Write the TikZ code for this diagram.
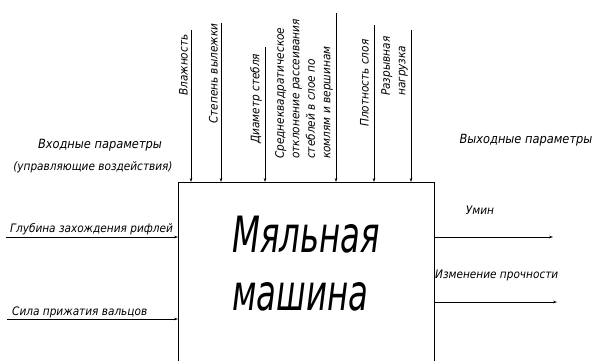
\documentclass[tikz,border=0pt]{standalone}
\usepackage{fontspec}
\usepackage{tikz}
\usetikzlibrary{arrows.meta,positioning}
\newfontfamily\gost{DejaVu Sans Condensed Oblique}
\newfontfamily\gosttitle{DejaVu Sans Condensed Oblique}[FakeStretch=0.72]

\begin{document}
\begin{tikzpicture}[
    x=1pt, y=-1pt,
    every node/.style={font=\gost\fontsize{11.7}{15.5}\selectfont, inner sep=1pt, text=black},
    vlabel/.style={rotate=90, anchor=south west, align=left},
    head/.style={font=\gost\fontsize{12.7}{15}\selectfont},
    flow/.style={-{Stealth[length=4pt,width=2.6pt]}, line width=0.5pt},
    block/.style={draw, line width=1.1pt, minimum width=256pt, minimum height=220pt, anchor=north west, inner sep=0pt}
]
\useasboundingbox (0,0) rectangle (592,360);
\node[block] (machine) at (178,182) {};
\node[anchor=west, align=left, font=\gosttitle\fontsize{50}{58}\selectfont] (name) at (231,264) {Мяльная\\машина};

% input parameters from above
\coordinate (v1) at (191,30);
\coordinate (v2) at (221,23);
\coordinate (v3) at (265,47);
\coordinate (v4) at (336,13);
\coordinate (v5) at (374,25);
\coordinate (v6) at (411,30);
\foreach \v in {v1,v2,v3,v4,v5,v6}
    \draw[flow] (\v) -- (\v |- machine.north);

\node[vlabel] (l1) at (189,97) {Влажность};
\node[vlabel] (l2) at (219,125) {Степень вылежки};
\node[vlabel] (l3) at (263,145) {Диаметр стебля};
\node[vlabel] (l4) at (334,160) {Среднеквадратическое\\отклонение рассеивания\\стеблей в слое по\\комлям и вершинам};
\node[vlabel] (l5) at (370,128) {Плотность слоя};
\node[vlabel] (l6) at (409,97) {Разрывная\\нагрузка};

% control inputs
\node[head] (inhead) at (100,145) {Входные параметры};
\node (insub) at (93,167) {(управляющие воздействия)};
\coordinate (h1) at (6,237);
\coordinate (h2) at (7,319);
\draw[flow] (h1) -- (h1 -| machine.west);
\draw[flow] (h2) -- (h2 -| machine.west);
\node[anchor=base west] (depth) at (9,232) {Глубина захождения рифлей};
\node[anchor=base west] (force) at (11,315) {Сила прижатия вальцов};

% outputs
\node[head] (outhead) at (526,140) {Выходные параметры};
\coordinate (o1) at (553,237);
\coordinate (o2) at (557,302);
\draw[flow] (o1 -| machine.east) -- (o1);
\draw[flow] (o2 -| machine.east) -- (o2);
\node (ymin) at (480,210) {Умин};
\node[anchor=west] (strength) at (434,275) {Изменение прочности};
\end{tikzpicture}
\end{document}
